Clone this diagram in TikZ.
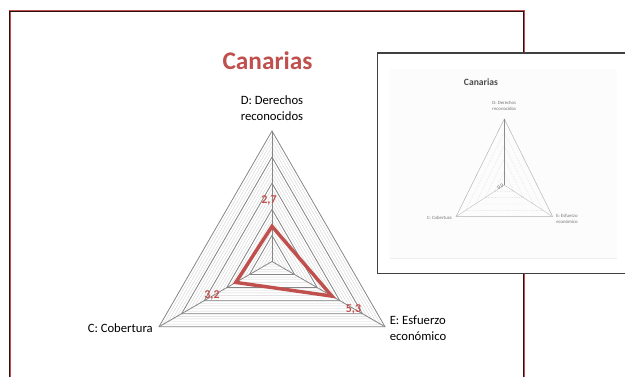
\documentclass[tikz,border=0pt]{standalone}
\usepackage{fontspec}
\setmainfont{Carlito}
\usetikzlibrary{calc}
\definecolor{accred}{RGB}{192,80,77}
\definecolor{framedark}{RGB}{45,15,15}
\definecolor{majgrid}{RGB}{134,134,134}
\definecolor{mingrid}{RGB}{212,212,212}
\definecolor{insetborder}{RGB}{64,64,64}
\tikzset{
  lbl/.style={font=\fontsize{9.5}{12}\selectfont, text=black, inner sep=0pt},
  vallbl/.style={font=\fontsize{9}{11}\selectfont\bfseries, text=accred, inner sep=0pt},
  minorgrid/.style={draw=mingrid, line width=0.3pt},
  majorgrid/.style={draw=majgrid, line width=0.6pt},
  series/.style={draw=accred, line width=2.6pt, line join=miter},
  tinylbl/.style={font=\fontsize{3.6}{4.4}\selectfont, text=black!55, inner sep=0pt},
  insetgrid/.style={draw=black!22, line width=0.3pt, densely dotted},
}
\begin{document}
\begin{tikzpicture}[x=0.75pt,y=-0.75pt]
\useasboundingbox (0,0) rectangle (625,376);
\fill[white] (0,0) rectangle (625,376);
% outer frame
\draw[accred, line width=1.5pt] (9.5,380) -- (9.5,11) -- (523.5,11) -- (523.5,380);
\draw[framedark, line width=0.9pt] (9.5,380) -- (9.5,11.3) -- (523.2,11.3) -- (523.2,380);
% title
\node[font=\fontsize{19}{22}\selectfont\bfseries, text=accred, inner sep=0pt] (title) at (267.5,61) {Canarias};
% radar grid
\coordinate (O) at (272,261.5);
\foreach \k in {0.4,0.8,...,10}{
  \draw[minorgrid] (272,{261.5-\k*13.05}) -- ({272-\k*11.30},{261.5+\k*6.525}) -- ({272+\k*11.30},{261.5+\k*6.525}) -- cycle;
}
\foreach \k in {2,4,...,10}{
  \draw[majorgrid] (272,{261.5-\k*13.05}) -- ({272-\k*11.30},{261.5+\k*6.525}) -- ({272+\k*11.30},{261.5+\k*6.525}) -- cycle;
}
\coordinate (vd) at (272,131);
\coordinate (vc) at (159,326.75);
\coordinate (ve) at (385,326.75);
\draw[majorgrid] (O) -- (vd);
\draw[majorgrid] (O) -- (vc);
\draw[majorgrid] (O) -- (ve);
% series
\coordinate (pd) at (272,226.3);
\coordinate (pc) at (235.8,282.4);
\coordinate (pe) at (331.9,296.1);
\draw[series] (pd) -- (pc) -- (pe) -- cycle;
% value labels
\node[vallbl] (v1) at (269,200) {2,7};
\node[vallbl] (v2) at (212,295.5) {3,2};
\node[vallbl] (v3) at (353.5,309) {5,3};
% axis labels
\node[lbl, align=center] (ld) at (272,108) {D: Derechos\\reconocidos};
\node[lbl, anchor=east] (lc) at (153,328) {C: Cobertura};
\node[lbl, anchor=west, align=left] (le) at (389.5,328) {E: Esfuerzo\\económico};
% inset thumbnail
\draw[fill=white, draw=insetborder, line width=1.1pt] (377.5,53) rectangle (632,273.5);
\fill[black!1] (390,69) rectangle (617,258);
\draw[black!7, line width=0.6pt] (390,258) -- (617,258);
\node[font=\fontsize{7.2}{8}\selectfont\bfseries, text=black!70, inner sep=0pt] (ititle) at (481,82) {Canarias};
\coordinate (iO) at (504.3,185);
\coordinate (id) at (504.3,119);
\coordinate (ic) at (456,216.7);
\coordinate (ie) at (552.7,216.7);
\foreach \f in {0.2,0.4,0.6,0.8}{
  \draw[insetgrid] ($(iO)!\f!(id)$) -- ($(iO)!\f!(ic)$) -- ($(iO)!\f!(ie)$) -- cycle;
}
\draw[draw=black!30, line width=0.35pt] (id) -- (ic) -- (ie) -- cycle;
\draw[draw=black!45, line width=0.35pt] (iO) -- (id);
\draw[draw=black!25, line width=0.3pt] (iO) -- (ic);
\draw[draw=black!25, line width=0.3pt] (iO) -- (ie);
\node[tinylbl, rotate=30, text=black!70] (ival) at (500.5,187) {0,0};
\node[tinylbl, align=center] (ild) at (504.3,106) {D: Derechos\\reconocidos};
\node[tinylbl, anchor=east] (ilc) at (452,218) {C: Cobertura};
\node[tinylbl, anchor=west, align=left] (ile) at (556,219) {E: Esfuerzo\\económico};
\end{tikzpicture}
\end{document}
